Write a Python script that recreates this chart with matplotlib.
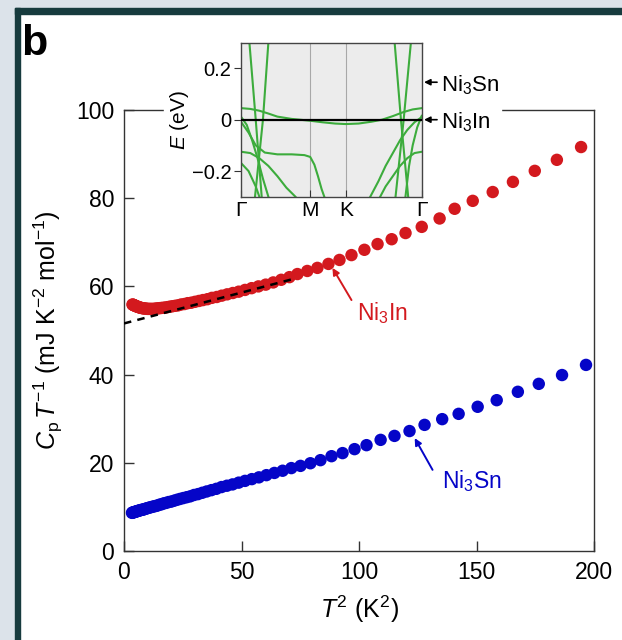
import numpy as np
import matplotlib.pyplot as plt
from matplotlib.patches import Rectangle

plt.rcParams['font.family'] = 'Liberation Sans'
plt.rcParams['mathtext.fontset'] = 'custom'
plt.rcParams['mathtext.rm'] = 'Liberation Sans'
plt.rcParams['mathtext.it'] = 'Liberation Sans:italic'

# Ni3In: T^2 (K^2) and C/T (mJ K^-2 mol^-1)
in_t2 = [194.5, 184.2, 174.8, 165.5, 156.9, 148.4, 140.7, 134.3, 126.7, 119.8,
         113.9, 107.9, 102.3, 96.8, 91.7, 87.0, 82.3, 78.0, 73.8, 70.4,
         66.9, 63.5, 60.3, 57.2, 54.3, 51.5, 48.8, 46.3, 43.9, 41.6,
         39.5, 37.4, 35.5, 33.6, 31.9, 30.2, 28.6, 27.1, 25.7, 24.3,
         23.0, 21.8, 20.6, 19.5, 18.5, 17.5, 16.6, 15.7, 14.8, 14.0,
         13.3, 12.6, 11.9, 11.2, 10.6, 10.0, 9.5, 8.9, 8.4, 8.0,
         7.5, 7.1, 6.7, 6.3, 6.0, 5.6, 5.3, 5.0, 4.7, 4.5,
         4.2, 4.0, 3.8, 3.6]
in_c = [91.6, 88.7, 86.2, 83.7, 81.4, 79.4, 77.6, 75.4, 73.5, 72.1,
        70.7, 69.6, 68.3, 67.1, 66.0, 65.1, 64.2, 63.5, 62.8, 62.1,
        61.5, 60.9, 60.4, 60.0, 59.6, 59.2, 58.8, 58.5, 58.2, 57.9,
        57.6, 57.4, 57.1, 56.9, 56.7, 56.5, 56.3, 56.2, 56.0, 55.9,
        55.7, 55.6, 55.5, 55.4, 55.3, 55.2, 55.15, 55.1, 55.05, 55.0,
        54.95, 54.9, 54.9, 54.9, 54.9, 54.9, 54.95, 55.0, 55.0, 55.05,
        55.1, 55.15, 55.2, 55.3, 55.35, 55.4, 55.5, 55.55, 55.6, 55.7,
        55.75, 55.8, 55.85, 55.9]

# Ni3Sn
sn_t2 = [196.6, 186.4, 176.5, 167.6, 158.6, 150.5, 142.4, 135.4, 127.9, 121.5,
         115.1, 109.2, 103.2, 98.1, 93.0, 88.3, 83.6, 79.3, 75.1, 71.2,
         67.5, 64.0, 60.6, 57.4, 54.4, 51.5, 48.8, 46.2, 43.8, 41.5,
         39.3, 37.2, 35.2, 33.3, 31.5, 29.8, 28.2, 26.7, 25.2, 23.8,
         22.5, 21.3, 20.1, 19.0, 17.9, 16.9, 16.0, 15.1, 14.2, 13.4,
         12.6, 11.9, 11.2, 10.5, 9.9, 9.3, 8.7, 8.2, 7.7, 7.2,
         6.7, 6.3, 5.9, 5.5, 5.1, 4.8, 4.5, 4.2, 3.9, 3.6, 3.4]
sn_c = [42.2, 39.9, 37.9, 36.1, 34.2, 32.7, 31.1, 29.9, 28.6, 27.2,
        26.1, 25.2, 24.0, 23.1, 22.2, 21.5, 20.6, 19.9, 19.3, 18.8,
        18.2, 17.7, 17.2, 16.7, 16.3, 15.9, 15.5, 15.1, 14.8, 14.5,
        14.1, 13.8, 13.5, 13.2, 12.9, 12.7, 12.4, 12.2, 12.0, 11.8,
        11.6, 11.4, 11.2, 11.1, 10.9, 10.8, 10.6, 10.5, 10.3, 10.2,
        10.1, 10.0, 9.9, 9.8, 9.7, 9.6, 9.5, 9.4, 9.35, 9.3,
        9.2, 9.15, 9.1, 9.0, 8.95, 8.9, 8.85, 8.8, 8.75, 8.7, 8.65]

# linear fit of Ni3In, gamma + beta*T^2
fit_gamma = 51.6
fit_beta = 0.14
fit_range = [0, 72]

# band structure (k along G-M-K-G as fraction of path, E in eV)
k_ticks = [0, 0.382, 0.579, 1.0]
k_labels = ['Γ', 'M', 'K', 'Γ']
bands_k = [
    [0.045, 0.08, 0.113],
    [0.15, 0.12, 0.076],
    [0, 0.05, 0.1, 0.15, 0.2, 0.28, 0.382, 0.45, 0.52, 0.579, 0.65, 0.72, 0.78, 0.84, 0.9, 0.95, 1.0],
    [0, 0.03, 0.06, 0.09, 0.12, 0.15],
    [0, 0.04, 0.08, 0.13, 0.2, 0.28, 0.35, 0.382, 0.405, 0.425, 0.445, 0.46],
    [0, 0.05, 0.1, 0.15, 0.2, 0.25, 0.3],
    [0, 0.04, 0.08, 0.1],
    [0.85, 0.885, 0.925],
    [0.94, 0.9, 0.855],
    [1.0, 0.96, 0.92, 0.88, 0.84, 0.8, 0.76, 0.715],
    [1.0, 0.96, 0.92, 0.88, 0.84, 0.8, 0.77],
    [1.0, 0.975, 0.95, 0.93, 0.91],
]
bands_e = [
    [0.3, 0.0, -0.3],
    [0.3, 0.0, -0.3],
    [0.045, 0.042, 0.035, 0.024, 0.012, 0.003, -0.004, -0.01, -0.015, -0.017, -0.015, -0.008, 0.0, 0.014, 0.03, 0.04, 0.045],
    [0.01, -0.02, -0.08, -0.15, -0.23, -0.3],
    [-0.01, -0.05, -0.1, -0.128, -0.135, -0.135, -0.138, -0.145, -0.175, -0.22, -0.27, -0.3],
    [-0.125, -0.13, -0.15, -0.18, -0.22, -0.265, -0.3],
    [-0.17, -0.2, -0.26, -0.3],
    [0.3, 0.0, -0.3],
    [0.3, 0.0, -0.3],
    [0.01, -0.01, -0.04, -0.08, -0.13, -0.18, -0.24, -0.3],
    [-0.125, -0.13, -0.15, -0.18, -0.22, -0.26, -0.3],
    [0.015, -0.03, -0.1, -0.18, -0.3],
]
# Fermi levels marked on the right of the inset
ef_sn = 0.146
ef_in = 0.0

red = '#d3191e'
blue = '#0505c8'
green = '#3cac3c'

fig = plt.figure(figsize=(6.22, 6.40), dpi=100)
W, H = 622, 640

# page frame
light = '#dce3ea'
dark = '#173b3e'
fig.add_artist(Rectangle((0, 0), 15 / W, 1, transform=fig.transFigure, color=light, zorder=-5))
fig.add_artist(Rectangle((0, 1 - 8 / H), 1, 8 / H, transform=fig.transFigure, color=light, zorder=-5))
fig.add_artist(Rectangle((15 / W, 0), 5 / W, 1 - 8 / H, transform=fig.transFigure, color=dark, zorder=-4))
fig.add_artist(Rectangle((15 / W, 1 - 14 / H), 1, 6 / H, transform=fig.transFigure, color=dark, zorder=-4))

fig.text(21 / W, 1 - 24 / H, 'b', fontsize=31, fontweight='bold', va='top', ha='left')

ax = fig.add_axes([124 / W, 1 - 551 / H, 470 / W, 441 / H])
ax.scatter(in_t2, in_c, s=80, color=red, edgecolors='none', zorder=2)
ax.scatter(sn_t2, sn_c, s=80, color=blue, edgecolors='none', zorder=2)
fx = np.array(fit_range)
ax.plot(fx, fit_gamma + fit_beta * fx, color='black', lw=1.8, ls=(0, (3, 2.5)), zorder=3)
ax.set_xlim(0, 200)
ax.set_ylim(0, 100)
ax.set_xticks([0, 50, 100, 150, 200])
ax.set_yticks([0, 20, 40, 60, 80, 100])
ax.tick_params(direction='in', length=7, width=1, labelsize=16.5, color='#333333', pad=7)
for s in ax.spines.values():
    s.set_linewidth(1)
    s.set_color('#333333')
ax.set_xlabel('$T^2$ (K$^2$)', fontsize=18, labelpad=7)
ax.set_ylabel(r'$C_{\rm p}\,T^{-1}$ (mJ K$^{-2}$ mol$^{-1}$)', fontsize=18, labelpad=8)

ax.annotate('', xy=(88.7, 64.2), xytext=(96.8, 56.9),
            arrowprops=dict(arrowstyle='-|>', color=red, lw=1.4, mutation_scale=10, shrinkA=0, shrinkB=0))
ax.text(99.0, 52.4, 'Ni$_3$In', color=red, fontsize=16.5, va='baseline', ha='left')
ax.annotate('', xy=(123.7, 25.6), xytext=(131.3, 18.4),
            arrowprops=dict(arrowstyle='-|>', color=blue, lw=1.4, mutation_scale=10, shrinkA=0, shrinkB=0))
ax.text(135.2, 14.3, 'Ni$_3$Sn', color=blue, fontsize=16.5, va='baseline', ha='left')

# white gap in top spine behind inset
fig.add_artist(Rectangle((164 / W, 1 - 116 / H), 337 / W, 12 / H, transform=fig.transFigure,
                         color='white', zorder=1))

axi = fig.add_axes([241.3 / W, 1 - 196.7 / H, 180.4 / W, 154 / H], zorder=2)
axi.set_facecolor('#ececec')
for kk in k_ticks[1:3]:
    axi.axvline(kk, color='#a8a8a8', lw=0.8, zorder=1)
for bk, be in zip(bands_k, bands_e):
    axi.plot(bk, be, color=green, lw=1.5, zorder=2)
axi.axhline(0, color='black', lw=1.6, zorder=3)
axi.set_xlim(0, 1)
axi.set_ylim(-0.3, 0.3)
axi.set_xticks(k_ticks)
axi.set_xticklabels(k_labels)
axi.set_yticks([-0.2, 0, 0.2])
axi.set_yticklabels(['\u22120.2', '0', '0.2'])
axi.tick_params(axis='x', direction='in', length=5, labelsize=15, pad=3, color='#333333')
axi.tick_params(axis='y', direction='out', length=5, labelsize=14.5, pad=2, color='#333333')
for s in axi.spines.values():
    s.set_linewidth(1)
    s.set_color('#444444')
axi.set_ylabel('$E$ (eV)', fontsize=15, labelpad=1)

for ef, lab in [(ef_sn, 'Ni$_3$Sn'), (ef_in, 'Ni$_3$In')]:
    axi.annotate('', xy=(1.013, ef), xytext=(1.085, ef), annotation_clip=False,
                 arrowprops=dict(arrowstyle='-|>', color='black', lw=1.2, mutation_scale=9, shrinkA=0, shrinkB=0))
    axi.text(1.105, ef - 0.035, lab, fontsize=16, va='baseline', ha='left', clip_on=False)

fig.savefig('out.png', dpi=100)
